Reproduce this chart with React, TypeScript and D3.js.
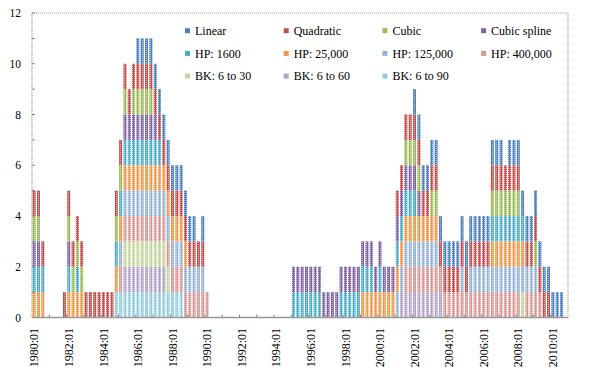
import * as d3 from 'd3'

// quarterly categories 1980:01 .. 2010:04
const years = d3.range(1980, 2011)
const quarters = years.flatMap(y => ['01', '02', '03', '04'].map(q => `${y}:${q}`))

const seriesNames = [
  'Linear', 'Quadratic', 'Cubic', 'Cubic spline',
  'HP: 1600', 'HP: 25,000', 'HP: 125,000', 'HP: 400,000',
  'BK: 6 to 30', 'BK: 6 to 60', 'BK: 6 to 90',
]
const seriesColors = [
  '#4F81BD', '#C0504D', '#9BBB59', '#8064A2',
  '#4BACC6', '#F79646', '#95B3D7', '#D99694',
  '#C3D69B', '#B3A2C7', '#93CDDD',
]

// indicator per quarter (1 = episode flagged), one group of 4 per year
const linear = '0000 0000 0000 0000 0000 0000 1111 1111 1111 1101 0000 0000 0000 0000 0000 0000 0000 0000 0000 0000 0000 0000 1111 1111 1111 1111 1111 1011 1111 1111 1110'
const quadratic = '1110 0001 1111 1111 1111 1111 1111 1111 1111 1111 0000 0000 0000 0000 0000 0000 0000 0000 0000 0000 0000 1111 1111 1111 1111 1111 1111 1111 1011 1111 0000'
const cubic = '1100 0000 1111 0000 0001 1101 1111 0000 0000 0000 0000 0000 0000 0000 0000 0000 0000 0000 0000 0000 0000 0011 1100 1100 0000 0000 0011 1111 1000 1000 0000'
const cubicSpline = '1100 0000 1000 0000 0000 0111 1111 1000 0000 0000 0000 0000 0000 0000 0000 1111 1111 1111 1111 1111 1111 1111 1100 0000 0000 0000 0000 0000 0000 0000 0000'
const hp1600 = '1110 0000 1010 0000 0001 1111 1111 1100 0000 0000 0000 0000 0000 0000 0000 1111 1110 0001 1111 1110 1000 1111 1000 0000 0000 0000 0011 1111 1100 0000 0000'
const hp25000 = '1110 0000 1111 0000 0001 1111 1111 1111 1111 0000 0000 0000 0000 0000 0000 0000 0000 0000 0000 1111 1111 1111 1111 1100 0000 0000 0011 1111 1100 0000 0000'
const hp125000 = '0000 0000 0000 0000 0000 1111 1111 1111 1111 1111 0000 0000 0000 0000 0000 0000 0000 0000 0000 0000 0000 1111 1111 1100 0001 0111 1111 1111 1111 1000 0000'
const hp400000 = '0000 0000 0000 0000 0000 1111 1111 1111 1111 1111 1000 0000 0000 0000 0000 0000 0000 0000 0000 0000 0000 0011 1111 1111 1111 1111 1111 1111 1011 1100 0000'
const bk30 = '0000 0000 0000 0000 0000 0111 1111 1111 0000 0000 0000 0000 0000 0000 0000 0000 0000 0000 0000 0000 0000 0000 0000 0000 0000 0000 0000 0000 0100 0000 0000'
const bk60 = '0000 0000 0000 0000 0000 0111 1111 1110 0000 0000 0000 0000 0000 0000 0000 0000 0000 0000 0000 0000 0000 0111 1111 1110 0000 0000 0000 0000 0000 0000 0000'
const bk90 = '0000 0000 0000 0000 0001 1111 1111 1111 1110 0000 0000 0000 0000 0000 0000 0000 0000 0000 0000 0000 0000 0000 0000 0000 0000 0000 0000 0000 0000 0000 0000'

const seriesFlags = [linear, quadratic, cubic, cubicSpline, hp1600, hp25000, hp125000, hp400000, bk30, bk60, bk90]
  .map(s => s.replace(/\s/g, '').split('').map(Number))

const yTicks = d3.range(0, 13, 2)

const W = 600
const H = 384
const left = 32
const right = 568
const top = 13
const bottom = 317.5
const font = "'Liberation Serif', 'DejaVu Serif', serif"

export default function App() {
  const rows = quarters.map((q, i) => {
    const r: Record<string, any> = { q }
    seriesNames.forEach((n, k) => { r[n] = seriesFlags[k][i] || 0 })
    return r
  })

  // first key sits at the bottom of each column
  const keys = [...seriesNames].reverse()
  const stacked = d3.stack<Record<string, any>>().keys(keys)(rows)
  const color = d3.scaleOrdinal<string, string>().domain(seriesNames).range(seriesColors)

  const x = d3.scaleBand<string>().domain(quarters).range([left, right]).paddingInner(0.32).paddingOuter(0.16)
  const step = (right - left) / quarters.length
  const y = d3.scaleLinear().domain([0, 12]).range([bottom, top])

  const labelIdx = quarters.map((_, i) => i).filter(i => i % 8 === 0)
  const tickIdx = d3.range(4, quarters.length, 4)
  const txt = { fontFamily: font }

  return (
    <svg width={W} height={H} style={{ position: 'absolute', left: 0, top: 0, background: '#fff' }}>
      <defs>
        {/* light dither like the exported picture */}
        <pattern id="dither" width={2} height={2} patternUnits="userSpaceOnUse">
          <rect x={0} y={0} width={1} height={1} fill="#fff" fillOpacity={0.55} />
        </pattern>
      </defs>

      {/* plot frame */}
      <line x1={left} x2={right} y1={top} y2={top} stroke="#9a9a9a" strokeDasharray="1,1" />
      <line x1={right} x2={right} y1={top} y2={bottom} stroke="#9a9a9a" strokeDasharray="1,1" />
      <line x1={left} x2={left} y1={top} y2={bottom} stroke="#8a8a8a" strokeDasharray="1,1" />

      {stacked.map(layer => (
        <g key={layer.key} fill={color(layer.key)}>
          {layer.map((d, i) => d[1] > d[0] ? (
            <rect key={i} x={x(quarters[i])} width={x.bandwidth()} y={y(d[1])} height={y(d[0]) - y(d[1])} />
          ) : null)}
        </g>
      ))}
      <g fill="url(#dither)">
        {stacked[stacked.length - 1].map((d, i) => d[1] > 0 ? (
          <rect key={i} x={x(quarters[i])} width={x.bandwidth()} y={y(d[1])} height={bottom - y(d[1])} />
        ) : null)}
      </g>

      {/* y axis */}
      {d3.range(1, 13).map(v => (
        <line key={v} x1={left} x2={left + 3} y1={y(v)} y2={y(v)} stroke="#8a8a8a" />
      ))}
      {yTicks.map(v => (
        <text key={v} x={21} y={y(v)} dy="0.35em" textAnchor="end" fontSize={11.5} fill="#000" style={txt}>{v}</text>
      ))}

      {/* x axis */}
      <line x1={left} x2={right} y1={bottom} y2={bottom} stroke="#999" strokeWidth={1.5} />
      {tickIdx.map(i => (
        <line key={i} x1={left + step * i} x2={left + step * i} y1={bottom} y2={bottom - 3} stroke="#888" />
      ))}
      {labelIdx.map(i => {
        const cx = (x(quarters[i]) ?? 0) + x.bandwidth() / 2
        return (
          <text key={i} transform={`translate(${cx},328) rotate(-90)`} dy="0.35em" textAnchor="end" fontSize={12} fill="#000" style={txt}>
            {quarters[i]}
          </text>
        )
      })}

      {/* legend */}
      {seriesNames.map((n, k) => {
        const col = k % 4
        const row = Math.floor(k / 4)
        const mx = 185 + col * 98.7
        const my = 30.7 + row * 22.7
        return (
          <g key={n}>
            <rect x={mx} y={my - 2.5} width={5} height={5} fill={seriesColors[k]} />
            <text x={mx + 10} y={my} dy="0.35em" fontSize={12} fill="#000" style={txt}>{n}</text>
          </g>
        )
      })}
    </svg>
  )
}
